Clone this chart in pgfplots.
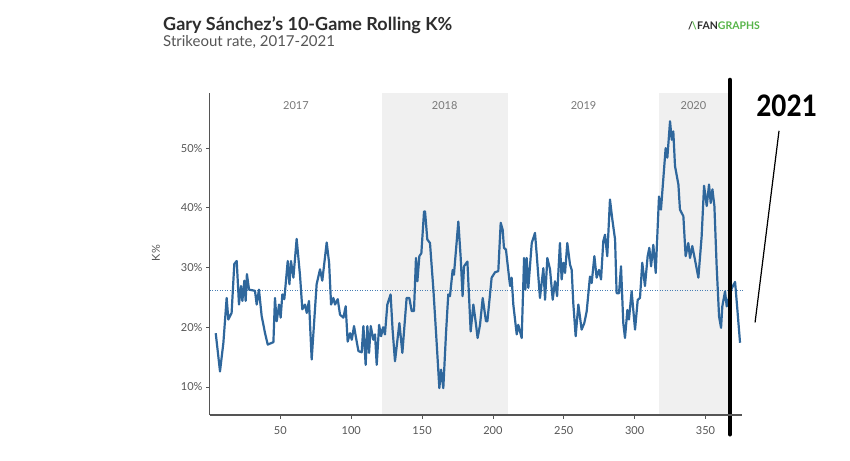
\documentclass[border=0pt]{standalone}
\usepackage{fontspec}
\setmainfont{Lato}
\newfontfamily\carlito{Carlito}
\usepackage{pgfplots}
\pgfplotsset{compat=1.18}
\definecolor{kline}{RGB}{47,103,156}
\definecolor{avgline}{RGB}{74,127,180}
\definecolor{bandgray}{RGB}{240,240,240}
\definecolor{axisgray}{RGB}{85,85,85}
\definecolor{labelgray}{RGB}{85,85,85}
\definecolor{yeargray}{RGB}{120,120,120}
\definecolor{titlegray}{RGB}{45,45,45}
\definecolor{subgray}{RGB}{85,85,85}
\definecolor{fggreen}{RGB}{86,180,72}
\begin{document}
\begin{tikzpicture}[x=1pt,y=1pt]
\useasboundingbox (0,0) rectangle (850,460);
\node[anchor=base west, text=titlegray, font=\fontsize{18}{21}\selectfont\bfseries, inner sep=0pt] at (163,429.3) {Gary Sánchez's 10-Game Rolling K\%};
\node[anchor=base west, text=subgray, font=\fontsize{15}{17}\selectfont, inner sep=0pt] at (163,413.3) {Strikeout rate, 2017-2021};
\node[anchor=base west, font=\fontsize{10.5}{12}\selectfont\bfseries, inner sep=0pt] at (697,430) {\textcolor{titlegray}{FAN}\textcolor{fggreen}{GRAPHS}};
\node[anchor=base east, font=\fontsize{10.5}{12}\selectfont\bfseries, inner sep=0pt, text=titlegray] at (697,430) {/\kern-1pt\textcolor{fggreen}{\char"005C}};
\node[rotate=90, text=labelgray, font=\fontsize{11}{13}\selectfont, inner sep=0pt] at (156,207) {K\%};
\node[text=black, font=\fontsize{33}{36}\selectfont\carlito\bfseries, inner sep=0pt, xscale=0.9] at (786.5,354) {2021};
\begin{axis}[
  at={(209.5pt,45pt)}, anchor=south west,
  scale only axis, width=532.8pt, height=321.8pt,
  xmin=0, xmax=376, ymin=5.3, ymax=59.2,
  axis x line*=bottom, axis y line*=left,
  axis line style={draw=axisgray, line width=1.2pt, -},
  xtick={50,100,...,350}, ytick={10,20,...,50},
  yticklabel={\pgfmathprintnumber{\tick}\%},
  tick style={draw=axisgray, line width=0.8pt},
  tick align=outside, major tick length=3.5pt,
  ticklabel style={font=\fontsize{11}{13}\selectfont, text=labelgray},
  xticklabel style={yshift=-4pt},
  /pgf/number format/assume math mode=true,
  clip=false, axis on top,
]
\addplot[fill=bandgray, draw=none, forget plot] coordinates {(121.7,5.3) (210.7,5.3) (210.7,59.2) (121.7,59.2)} -- cycle;
\addplot[fill=bandgray, draw=none, forget plot] coordinates {(317.2,5.3) (366,5.3) (366,59.2) (317.2,59.2)} -- cycle;
\node[text=yeargray, font=\fontsize{11}{13}\selectfont] at (axis cs:61,57.1) {2017};
\node[text=yeargray, font=\fontsize{11}{13}\selectfont] at (axis cs:166,57.1) {2018};
\node[text=yeargray, font=\fontsize{11}{13}\selectfont] at (axis cs:264,57.1) {2019};
\node[text=yeargray, font=\fontsize{11}{13}\selectfont] at (axis cs:341.5,57.1) {2020};
\addplot[avgline, line width=1pt, dash pattern=on 1pt off 1.5pt] coordinates {(0,26.2) (376,26.2)};
\addplot[kline, line width=2.2pt, line join=round, mark=none] coordinates {
(4.4,19.0) (7.4,12.6) (9.8,17.4) (12.1,24.9) (13.3,21.3) (15.6,22.4) (17.5,30.6) (19.2,31.1)
(20.8,23.8) (22.2,26.9) (23.2,24.4) (24.6,27.8) (25.5,24.4) (26.4,28.9) (27.9,26.3) (32.1,26.1)
(33.3,23.8) (34.9,26.3) (36.8,21.9) (39.2,19.0) (41.1,17.1) (45.1,17.5) (46.2,24.9) (47.4,21.0)
(49.1,23.8) (50.2,21.6) (51.4,25.5) (52.8,24.7) (55.2,31.1) (56.4,27.2) (57.5,31.1) (59.2,28.3)
(61.5,34.8) (63.9,28.6) (65.5,23.0) (67.4,23.8) (68.6,22.4) (70.2,24.4) (72.1,14.6) (73.8,20.7)
(75.6,27.2) (78.0,29.7) (79.6,27.8) (82.7,34.2) (84.4,30.8) (85.8,23.8) (87.4,24.9) (88.6,23.8)
(90.5,24.7) (92.1,22.1) (94.5,21.6) (96.1,23.5) (97.5,17.6) (99.2,19.0) (100.4,17.9) (102.0,20.2)
(103.2,18.5) (105.1,16.0) (107.4,15.8) (108.6,20.2) (110.2,13.7) (111.4,20.2) (112.6,15.7) (113.8,20.2)
(115.6,17.9) (116.8,18.8) (118.0,13.7) (119.7,20.4) (121.1,18.5) (122.5,20.0) (123.8,18.8) (125.5,23.8)
(127.8,25.5) (129.2,19.6) (130.9,14.3) (134.0,20.7) (136.1,15.7) (139.1,24.9) (141.0,24.9) (142.7,22.7)
(144.3,22.7) (145.7,31.6) (146.7,27.7) (148.1,31.9) (149.5,32.4) (151.4,39.4) (152.1,39.4) (153.7,34.7)
(155.6,34.1) (158.0,26.3) (160.3,17.4) (162.2,9.8) (163.4,12.9) (165.0,9.8) (166.9,19.0) (168.5,25.5)
(169.7,25.2) (171.6,29.6) (172.5,28.8) (175.6,37.7) (177.2,31.9) (178.6,25.2) (179.6,30.2) (182.0,31.0)
(184.3,19.3) (186.2,23.8) (188.1,20.4) (189.2,18.2) (190.9,20.4) (192.8,24.9) (195.1,21.0) (196.1,21.0)
(199.1,28.3) (201.5,29.2) (203.8,29.4) (205.5,37.5) (206.9,36.3) (207.8,33.3) (209.2,33.0) (212.1,26.9)
(213.2,28.3) (214.4,23.8) (216.8,18.8) (217.9,20.4) (220.3,18.2) (222.0,31.6) (222.9,26.3) (223.8,31.6)
(225.0,26.6) (227.4,34.1) (229.7,35.8) (230.9,32.2) (233.2,24.9) (235.6,29.9) (236.8,24.6) (238.4,31.6)
(240.3,29.7) (242.2,24.6) (243.8,27.7) (245.3,25.2) (247.3,34.1) (248.5,28.0) (249.7,30.8) (250.9,29.1)
(252.5,34.1) (254.4,30.5) (255.6,29.6) (256.7,24.1) (258.4,18.5) (260.3,23.8) (262.6,19.6) (264.5,20.7)
(266.2,22.7) (268.5,28.5) (269.7,27.4) (271.6,31.9) (273.2,28.3) (274.9,29.6) (276.3,28.0) (277.9,34.4)
(279.1,35.5) (280.7,31.9) (282.6,41.4) (284.3,38.0) (286.2,34.7) (287.3,25.7) (289.0,25.7) (290.4,30.2)
(292.0,20.7) (293.2,18.2) (294.9,22.9) (296.0,21.3) (297.9,26.0) (300.3,19.6) (302.2,24.6) (303.8,24.9)
(305.4,30.8) (307.3,26.9) (309.2,31.9) (310.4,33.3) (311.6,30.2) (313.2,33.8) (314.9,29.1) (317.2,41.9)
(318.6,39.7) (321.9,50.0) (323.1,48.4) (325.0,54.5) (326.2,51.4) (327.3,52.8) (328.5,47.0) (330.9,43.9)
(332.0,39.7) (334.4,38.6) (336.0,31.9) (337.9,34.1) (339.1,31.6) (340.7,33.6) (342.6,31.3) (345.0,28.3)
(347.3,35.2) (349.0,43.7) (350.9,40.3) (352.5,43.9) (353.7,40.8) (354.9,43.1) (356.3,40.3) (357.9,30.2)
(359.6,21.8) (361.0,19.9) (361.9,23.5) (363.8,26.0) (365.0,23.5) (366.2,24.6) (368.5,26.5) (370.9,27.6)
(372.7,22.4) (374.4,17.4)
};
\addplot[black, line width=4.8pt, line cap=round] coordinates {(367.3,61.4) (367.3,2.1)};
\addplot[black, line width=1.2pt] coordinates {(401.9,52.9) (385.0,20.8)};
\end{axis}
\end{tikzpicture}
\end{document}
